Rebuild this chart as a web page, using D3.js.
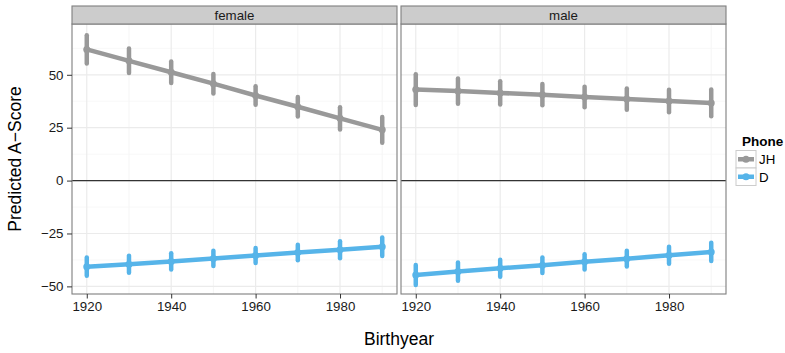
<!DOCTYPE html>
<html>
<head>
<meta charset="utf-8">
<script src="https://cdn.jsdelivr.net/npm/d3@7"></script>
<style>
	body { margin: 0; background: #fff; }
	text { font-family: "Liberation Sans", Arial, sans-serif; }
</style>
</head>
<body>
<div id="theChart"></div>
<script>
// data
const years = [1920, 1930, 1940, 1950, 1960, 1970, 1980, 1990]
const panels = ["female", "male"]
const phones = ["JH", "D"]
const phoneColors = ["#999999", "#56B4E9"]

const femaleJH = [62.0, 56.6, 51.2, 45.8, 40.2, 34.9, 29.4, 24.0]
const femaleJHerr = [6.7, 5.8, 5.1, 4.6, 4.4, 4.6, 5.2, 6.1]
const femaleD = [-40.7, -39.5, -38.2, -36.8, -35.4, -34.0, -32.7, -31.3]
const femaleDerr = [4.3, 4.0, 3.8, 3.6, 3.5, 3.7, 4.0, 4.4]

const maleJH = [43.0, 42.3, 41.4, 40.6, 39.5, 38.5, 37.6, 36.7]
const maleJHerr = [7.3, 6.0, 5.5, 5.0, 4.8, 5.0, 5.3, 6.3]
const maleD = [-44.6, -43.0, -41.4, -40.0, -38.4, -36.9, -35.3, -33.7]
const maleDerr = [4.7, 4.3, 4.0, 3.7, 3.6, 3.7, 4.0, 4.3]

const xMajor = [1920, 1940, 1960, 1980]
const xMinor = [1930, 1950, 1970, 1990]
const yMajor = [-50, -25, 0, 25, 50]
const yMinor = [-37.5, -12.5, 12.5, 37.5, 62.5]

const series = {
	female: [
		{ phone: "JH", vals: femaleJH, err: femaleJHerr },
		{ phone: "D", vals: femaleD, err: femaleDerr },
	],
	male: [
		{ phone: "JH", vals: maleJH, err: maleJHerr },
		{ phone: "D", vals: maleD, err: maleDerr },
	],
}

const w = 785
const h = 353
const panelTop = 24
const panelBottom = 294
const stripTop = 6
const panelLeft = [72, 401]
const panelW = 325
const tickFont = 13.3

const color = d3.scaleOrdinal().domain(phones).range(phoneColors)

const y = d3.scaleLinear().domain([-53.6, 74]).range([panelBottom, panelTop])

const svg = d3
	.select("#theChart")
	.append("svg")
	.attr("width", w)
	.attr("height", h)

panels.forEach((p, pi) => {
	const x0 = panelLeft[pi]
	const x = d3
		.scaleLinear()
		.domain([1916.5, 1993.5])
		.range([x0, x0 + panelW])

	const g = svg.append("g")

	// grid
	g.selectAll(".yminor")
		.data(yMinor)
		.enter()
		.append("line")
		.attr("x1", x0)
		.attr("x2", x0 + panelW)
		.attr("y1", d => y(d))
		.attr("y2", d => y(d))
		.attr("stroke", "#f8f8f8")
		.attr("stroke-width", 1)
	g.selectAll(".xminor")
		.data(xMinor)
		.enter()
		.append("line")
		.attr("x1", d => x(d))
		.attr("x2", d => x(d))
		.attr("y1", panelTop)
		.attr("y2", panelBottom)
		.attr("stroke", "#f5f5f5")
		.attr("stroke-width", 1)
	g.selectAll(".ymajor")
		.data(yMajor)
		.enter()
		.append("line")
		.attr("x1", x0)
		.attr("x2", x0 + panelW)
		.attr("y1", d => y(d))
		.attr("y2", d => y(d))
		.attr("stroke", "#ebebeb")
		.attr("stroke-width", 1.2)
	g.selectAll(".xmajor")
		.data(xMajor)
		.enter()
		.append("line")
		.attr("x1", d => x(d))
		.attr("x2", d => x(d))
		.attr("y1", panelTop)
		.attr("y2", panelBottom)
		.attr("stroke", "#ebebeb")
		.attr("stroke-width", 1.2)

	// zero line
	g.append("line")
		.attr("x1", x0)
		.attr("x2", x0 + panelW)
		.attr("y1", y(0))
		.attr("y2", y(0))
		.attr("stroke", "#333")
		.attr("stroke-width", 1.1)

	// series
	series[p].forEach(s => {
		const c = color(s.phone)
		const pts = years.map((yr, i) => ({ yr, v: s.vals[i], e: s.err[i] }))
		g.append("path")
			.datum(pts)
			.attr("fill", "none")
			.attr("stroke", c)
			.attr("stroke-width", 4.5)
			.attr("d", d3.line().x(d => x(d.yr)).y(d => y(d.v)))
		g.selectAll(null)
			.data(pts)
			.enter()
			.append("line")
			.attr("x1", d => x(d.yr))
			.attr("x2", d => x(d.yr))
			.attr("y1", d => y(d.v + d.e))
			.attr("y2", d => y(d.v - d.e))
			.attr("stroke", c)
			.attr("stroke-width", 4.5)
			.attr("stroke-linecap", "round")
		g.selectAll(null)
			.data(pts)
			.enter()
			.append("circle")
			.attr("cx", d => x(d.yr))
			.attr("cy", d => y(d.v))
			.attr("r", 3.5)
			.attr("fill", c)
	})

	// panel border
	g.append("rect")
		.attr("x", x0)
		.attr("y", panelTop)
		.attr("width", panelW)
		.attr("height", panelBottom - panelTop)
		.attr("fill", "none")
		.attr("stroke", "#7f7f7f")
		.attr("stroke-width", 1.1)

	// strip
	g.append("rect")
		.attr("x", x0)
		.attr("y", stripTop)
		.attr("width", panelW)
		.attr("height", panelTop - stripTop)
		.attr("fill", "#cccccc")
		.attr("stroke", "#7f7f7f")
		.attr("stroke-width", 1.1)
	g.append("text")
		.attr("x", x0 + panelW / 2)
		.attr("y", (stripTop + panelTop) / 2 + 4.8)
		.attr("text-anchor", "middle")
		.attr("font-size", tickFont)
		.attr("fill", "#1a1a1a")
		.text(p)

	// x axis
	const xAxis = d3
		.axisBottom(x)
		.tickValues(xMajor)
		.tickFormat(d3.format("d"))
		.tickSize(4.5)
		.tickPadding(3.2)
	const xa = g
		.append("g")
		.attr("transform", `translate(0,${panelBottom})`)
		.call(xAxis)
	xa.select(".domain").remove()
	xa.selectAll("line").attr("stroke", "#333")
	xa.selectAll("text")
		.attr("font-size", tickFont)
		.attr("fill", "#1a1a1a")
		.attr("font-family", "Liberation Sans, Arial, sans-serif")
})

// y axis on left panel
const yAxis = d3
	.axisLeft(y)
	.tickValues(yMajor)
	.tickFormat(d => (d < 0 ? "\u2212" + Math.abs(d) : d))
	.tickSize(5)
	.tickPadding(3.5)
const ya = svg
	.append("g")
	.attr("transform", `translate(${panelLeft[0]},0)`)
	.call(yAxis)
ya.select(".domain").remove()
ya.selectAll("line").attr("stroke", "#333")
ya.selectAll("text")
	.attr("font-size", tickFont)
	.attr("fill", "#1a1a1a")
	.attr("font-family", "Liberation Sans, Arial, sans-serif")

// axis titles
svg.append("text")
	.attr("x", (panelLeft[0] + panelLeft[1] + panelW) / 2)
	.attr("y", 345)
	.attr("text-anchor", "middle")
	.attr("font-size", 17.5)
	.text("Birthyear")

svg.append("text")
	.attr("transform", `translate(21,${(panelTop + panelBottom) / 2}) rotate(-90)`)
	.attr("text-anchor", "middle")
	.attr("font-size", 17.5)
	.text("Predicted A\u2212Score")

// legend
const legend = svg.append("g").attr("transform", "translate(736,0)")
legend
	.append("text")
	.attr("x", 6)
	.attr("y", 146)
	.attr("font-size", 13.5)
	.attr("font-weight", "bold")
	.text("Phone")

const keyH = 17.5
phones.forEach((ph, i) => {
	const ky = 150.5 + i * keyH
	const c = color(ph)
	legend
		.append("rect")
		.attr("x", 0)
		.attr("y", ky)
		.attr("width", 20)
		.attr("height", keyH)
		.attr("fill", "#fff")
		.attr("stroke", "#cccccc")
	legend
		.append("line")
		.attr("x1", 2)
		.attr("x2", 18)
		.attr("y1", ky + keyH / 2)
		.attr("y2", ky + keyH / 2)
		.attr("stroke", c)
		.attr("stroke-width", 4.5)
	legend
		.append("circle")
		.attr("cx", 10)
		.attr("cy", ky + keyH / 2)
		.attr("r", 3.5)
		.attr("fill", c)
	legend
		.append("text")
		.attr("x", 23)
		.attr("y", ky + keyH / 2 + 4.8)
		.attr("font-size", tickFont)
		.text(ph)
})
</script>
</body>
</html>
